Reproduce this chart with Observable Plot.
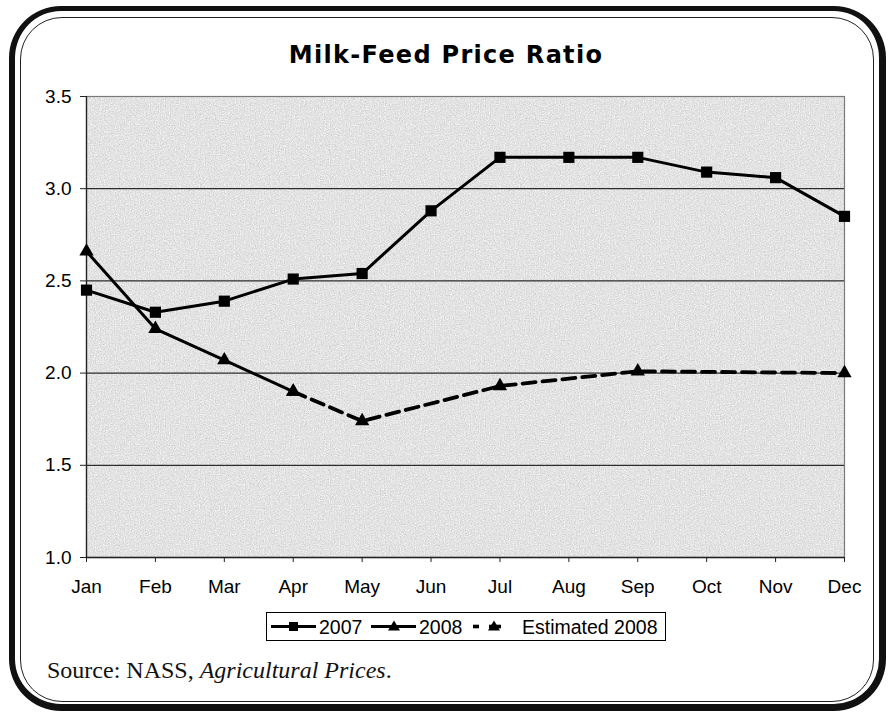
<!DOCTYPE html>
<html>
<head>
<meta charset="utf-8">
<script src="https://cdn.jsdelivr.net/npm/d3@7"></script>
<script src="https://cdn.jsdelivr.net/npm/@observablehq/plot@0.6"></script>
<style>
  html, body { margin: 0; padding: 0; background: #fff; }
  #wrap { position: relative; width: 890px; height: 713px; overflow: hidden; font-family: "Liberation Sans", Arial, sans-serif; color: #000; }
  #outer { position: absolute; left: 9px; top: 6px; width: 877px; height: 705px; box-sizing: border-box;
           border-style: solid; border-color: #111; border-width: 5px 7px 7px 6px; border-radius: 52px; }
  #inner { position: absolute; left: 20px; top: 17px; width: 854px; height: 685px; box-sizing: border-box;
           border: 1.5px solid #222; border-radius: 42px; }
  #title { position: absolute; left: 0; top: 43px; width: 890px; padding-left: 2px; box-sizing: border-box; text-align: center;
           font-family: "DejaVu Sans", Verdana, sans-serif; font-weight: bold; font-size: 24px; line-height: 24px; letter-spacing: 1.3px; color: #000; }
  #chart { position: absolute; left: 0; top: 80px; width: 890px; }
  #chart svg { max-width: none; display: block; }
  #legend { position: absolute; left: 266px; top: 612px; width: 400px; height: 29px; box-sizing: border-box; border: 1px solid #000; background: #fff; }
  #legend svg { position: absolute; left: 0; top: 0; }
  #source { position: absolute; left: 47px; top: 658px; font-family: "Liberation Serif", "Times New Roman", serif; font-size: 24px; line-height: 24px; color: #111; white-space: nowrap; }
</style>
</head>
<body>
<div id="wrap">
  <div id="outer"></div>
  <div id="inner"></div>
  <div id="title">Milk-Feed Price Ratio</div>
  <div id="chart"></div>
  <div id="legend"></div>
  <div id="source">Source: NASS, <i>Agricultural Prices</i>.</div>
</div>
<script>
// ---- data ----
const months = ["Jan","Feb","Mar","Apr","May","Jun","Jul","Aug","Sep","Oct","Nov","Dec"];
const values2007 = [2.45, 2.33, 2.39, 2.51, 2.54, 2.88, 3.17, 3.17, 3.17, 3.09, 3.06, 2.85];
const months2008 = ["Jan","Feb","Mar","Apr"];
const values2008 = [2.66, 2.24, 2.07, 1.90];
const monthsEst2008 = ["Apr","May","Jul","Sep","Dec"];
const valuesEst2008 = [1.90, 1.74, 1.93, 2.01, 2.00];
const yTicks = [1.0, 1.5, 2.0, 2.5, 3.0, 3.5];
const gridValues = [1.5, 2.0, 2.5, 3.0];
const legendLabels = ["2007", "2008", "Estimated 2008"];

const idx = m => months.indexOf(m);
const s2007 = months.map((m, i) => ({mi: idx(m), value: values2007[i]}));
const s2008 = months2008.map((m, i) => ({mi: idx(m), value: values2008[i]}));
const sEst = monthsEst2008.map((m, i) => ({mi: idx(m), value: valuesEst2008[i]}));

const W = 890, H = 520, mL = 86, mR = 46, mT = 16, mB = 43;

const svg = Plot.plot({
  width: W,
  height: H,
  marginTop: mT,
  marginBottom: mB,
  marginLeft: mL,
  marginRight: mR,
  style: {fontFamily: "'Liberation Sans', Arial, sans-serif", fontSize: "19px", color: "#000", background: "transparent", overflow: "visible"},
  x: {type: "linear", domain: [0, months.length - 1], label: null},
  y: {domain: [1, 3.5], label: null},
  marks: [
    Plot.frame({fill: "#e0e0e0", stroke: null, ariaLabel: "bg"}),
    Plot.ruleY(gridValues, {stroke: "#000", strokeWidth: 1}),
    Plot.frame({stroke: "#7a7a7a", strokeWidth: 1.2}),
    Plot.ruleX([0], {stroke: "#222", strokeWidth: 1.3}),
    Plot.ruleY([1], {stroke: "#222", strokeWidth: 1.3}),
    Plot.axisY({ticks: yTicks, tickFormat: d => d.toFixed(1), tickSize: 6, tickPadding: 9, fontSize: 19, stroke: "#222"}),
    Plot.axisX({ticks: d3.range(months.length), tickFormat: i => months[i], tickSize: 5, tickPadding: 17, fontSize: 19, stroke: "#222"}),
    Plot.line(sEst, {x: "mi", y: "value", stroke: "#000", strokeWidth: 3.8, strokeDasharray: "13,7"}),
    Plot.line(s2008, {x: "mi", y: "value", stroke: "#000", strokeWidth: 3}),
    Plot.line(s2007, {x: "mi", y: "value", stroke: "#000", strokeWidth: 3}),
    Plot.dot(sEst, {x: "mi", y: "value", symbol: "triangle", r: 5.3, fill: "#000", stroke: null}),
    Plot.dot(s2008, {x: "mi", y: "value", symbol: "triangle", r: 5.3, fill: "#000", stroke: null}),
    Plot.dot(s2007, {x: "mi", y: "value", symbol: "square", r: 6.3, fill: "#000", stroke: null})
  ]
});

// speckled background texture
const ns = "http://www.w3.org/2000/svg";
const defs = document.createElementNS(ns, "defs");
defs.innerHTML = `
  <filter id="speckle" x="0" y="0" width="100%" height="100%" color-interpolation-filters="sRGB">
    <feTurbulence type="fractalNoise" baseFrequency="0.8" numOctaves="2" seed="11" result="n"/>
    <feColorMatrix in="n" type="matrix" values="0.34 0.33 0.33 0 0  0.34 0.33 0.33 0 0  0.34 0.33 0.33 0 0  0 0 0 0 1" result="g"/>
    <feComponentTransfer in="g" result="t">
      <feFuncR type="linear" slope="0.42" intercept="0.68"/>
      <feFuncG type="linear" slope="0.42" intercept="0.68"/>
      <feFuncB type="linear" slope="0.42" intercept="0.68"/>
    </feComponentTransfer>
    <feComposite in="t" in2="SourceGraphic" operator="in"/>
  </filter>`;
svg.insertBefore(defs, svg.firstChild);
const bg = svg.querySelector('[aria-label="bg"]');
if (bg) bg.setAttribute("filter", "url(#speckle)");

document.getElementById("chart").appendChild(svg);

// legend
const lg = document.getElementById("legend");
lg.innerHTML = `
<svg width="398" height="27" xmlns="http://www.w3.org/2000/svg" font-family="'Liberation Sans', Arial, sans-serif" font-size="19.5">
  <line x1="4" x2="49" y1="13.5" y2="13.5" stroke="#000" stroke-width="3"/>
  <rect x="22" y="9" width="9" height="9" fill="#000"/>
  <text x="52" y="20.8">${legendLabels[0]}</text>
  <line x1="104" x2="149" y1="13.5" y2="13.5" stroke="#000" stroke-width="3"/>
  <path d="M127,7.5 L133,17.5 L121,17.5 Z" fill="#000"/>
  <text x="152" y="20.8">${legendLabels[1]}</text>
  <line x1="206" x2="212" y1="13.5" y2="13.5" stroke="#000" stroke-width="3.6"/>
  <line x1="222" x2="234" y1="13.5" y2="13.5" stroke="#000" stroke-width="3.6"/>
  <path d="M227,7.5 L233,17.5 L221,17.5 Z" fill="#000"/>
  <text x="255" y="20.8">${legendLabels[2]}</text>
</svg>`;
</script>
</body>
</html>
